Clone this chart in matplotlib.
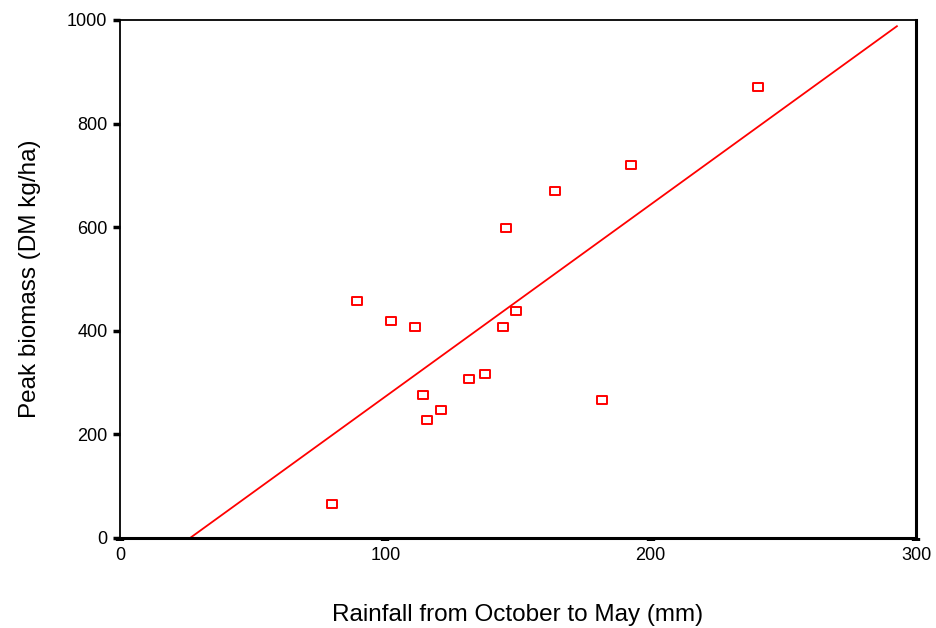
import matplotlib
matplotlib.use("Agg")
import matplotlib.pyplot as plt
from matplotlib.path import Path

rainfall = [80, 89.5, 102, 111.3, 114.3, 115.8, 121.1, 131.7, 137.7, 144.2, 145.3, 149.4, 163.8, 181.5, 192.5, 240.4]
biomass = [66, 457, 418, 408, 277, 227, 247, 306, 316, 408, 598, 438, 670, 267, 720, 870]
fit_x = [26.4, 292.8]
fit_y = [0, 988]

xticks = [0, 100, 200, 300]
yticks = [0, 200, 400, 600, 800, 1000]

plt.rcParams['font.family'] = ['Liberation Sans', 'DejaVu Sans']

fig = plt.figure(figsize=(9.36, 6.28), dpi=100)
ax = fig.add_axes([120/936, 1-538/628, (916-120)/936, (538-20)/628])

rect = Path([(-1, -0.8), (1, -0.8), (1, 0.8), (-1, 0.8), (-1, -0.8)],
            [Path.MOVETO, Path.LINETO, Path.LINETO, Path.LINETO, Path.CLOSEPOLY])

ax.plot(fit_x, fit_y, color='#ff0000', lw=1.3, zorder=2)
ax.plot(rainfall, biomass, linestyle='none', marker=rect, markersize=6.8,
        mfc='none', mec='#ff0000', mew=1.4, zorder=3)

ax.set_xlim(0, 300)
ax.set_ylim(0, 1000)
ax.set_xticks(xticks)
ax.set_yticks(yticks)

for s in ['top', 'left']:
    ax.spines[s].set_linewidth(1.3)
for s in ['bottom', 'right']:
    ax.spines[s].set_linewidth(2.2)

ax.tick_params(axis='y', direction='out', length=5, width=2.5, labelsize=13, pad=4)
ax.tick_params(axis='x', direction='out', length=2.5, width=6, labelsize=13, pad=4)

ax.set_xlabel('Rainfall from October to May (mm)', fontsize=17.5, labelpad=29)
ax.set_ylabel('Peak biomass (DM kg/ha)', fontsize=17.5, labelpad=19)

fig.savefig('out.png', dpi=100)
